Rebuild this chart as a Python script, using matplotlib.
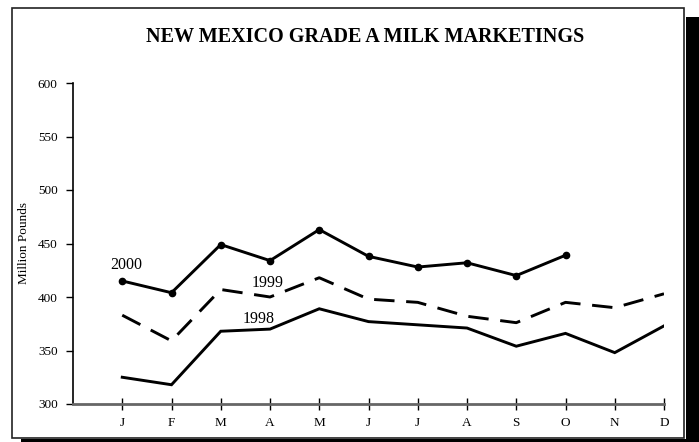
import matplotlib.pyplot as plt
from matplotlib.patches import Rectangle

plt.rcParams['font.family'] = ['Liberation Serif', 'DejaVu Serif']

# data
months = ['J', 'F', 'M', 'A', 'M', 'J', 'J', 'A', 'S', 'O', 'N', 'D']
y1998 = [325, 318, 368, 370, 389, 377, 374, 371, 354, 366, 348, 373]
y1999 = [383, 359, 407, 400, 418, 398, 395, 382, 376, 395, 390, 403]
y2000 = [415, 404, 449, 434, 463, 438, 428, 432, 420, 439]
yticks = [300, 350, 400, 450, 500, 550, 600]

fig = plt.figure(figsize=(6.99, 4.42), dpi=100)

# frame with drop shadow
W, H = 699, 442
fig.patches.append(Rectangle((686 / W, 0), 13 / W, 1 - 17 / H, transform=fig.transFigure,
                             facecolor='black', edgecolor='none', zorder=-2))
fig.patches.append(Rectangle((21 / W, 0), 678 / W, 3 / H, transform=fig.transFigure,
                             facecolor='black', edgecolor='none', zorder=-2))
fig.patches.append(Rectangle((12 / W, 1 - 438 / H), 672 / W, 430 / H, transform=fig.transFigure,
                             facecolor='white', edgecolor='#222222', linewidth=1.2, zorder=-1))

ax = fig.add_axes([73 / W, 1 - 404 / H, 591 / W, 321 / H])
ax.set_zorder(5)
ax.patch.set_alpha(0)
x = list(range(12))

ax.plot(x, y1998, color='black', linewidth=2.1, solid_joinstyle='miter')
ax.plot(x, y1999, color='black', linewidth=2.1, dashes=(7, 4))
ax.plot(x[:len(y2000)], y2000, color='black', linewidth=2.1, marker='o', markersize=4.5)

ax.text(0.09, 430, '2000', ha='center', va='center', fontsize=11.5)
ax.text(2.95, 413, '1999', ha='center', va='center', fontsize=11.5)
ax.text(2.77, 379, '1998', ha='center', va='center', fontsize=11.5)

ax.set_xlim(-1, 11)
ax.set_ylim(300, 600)
ax.set_yticks(yticks)
ax.set_xticks(x)
ax.set_xticklabels(months, fontsize=9.5)
ax.tick_params(axis='y', direction='out', length=5, width=1, labelsize=9.5, pad=6)
ax.tick_params(axis='x', direction='inout', length=9, width=1, pad=5)

for s in ['top', 'right']:
    ax.spines[s].set_visible(False)
ax.spines['left'].set_linewidth(1.2)
ax.spines['bottom'].set_color('#666666')
ax.spines['bottom'].set_linewidth(2)

ax.set_ylabel('Million Pounds', fontsize=9.5)
ax.yaxis.set_label_coords(-0.072, 0.5)

fig.text(365 / W, 1 - 37 / H, 'NEW MEXICO GRADE A MILK MARKETINGS', ha='center', va='center',
         fontsize=14.5, fontweight='bold', zorder=6)

fig.savefig('out.png', dpi=100)
